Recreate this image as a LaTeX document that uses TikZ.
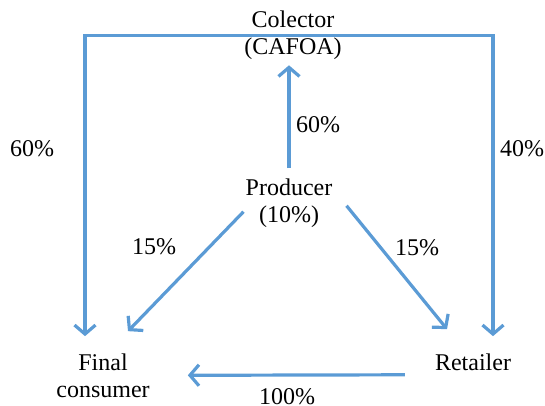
\documentclass[tikz,border=0pt]{standalone}
\usepackage{fontspec}
\setmainfont{Liberation Serif}
\usetikzlibrary{arrows.meta}
\definecolor{flowblue}{HTML}{5B9BD5}

\begin{document}
\begin{tikzpicture}[x=1pt,y=-1pt,
        >={Straight Barb[length=9pt,width=21pt]},
        flow/.style={draw=flowblue,line width=3.2pt,->},
        txt/.style={inner sep=0pt,align=center,anchor=base,font=\fontsize{24}{27}\selectfont}]
    \useasboundingbox (0,0) rectangle (545,406);
    	\node at (293,55) [txt] (coll) {Colector\\(CAFOA)};
        \node at (289,222) [txt] (prod) {Producer\\(10\%)};
        \node at (103,397) [txt] (fin) {Final\\consumer};
        \node at (473,370) [txt] (ret) {Retailer};

        \node at (32,157) [txt] (pcoll) {60\%};
        \node at (522,157) [txt] (pret) {40\%};
        \node at (318,133) [txt] (pup) {60\%};
        \node at (154,254) [txt] (pfin) {15\%};
        \node at (417,255) [txt] (pdown) {15\%};
        \node at (287,404) [txt] (pback) {100\%};

        \draw[flow,<->] ([shift={(-18,-17)}]fin.north) |- (coll.center) -| ([shift={(20,-17)}]ret.north);
        \draw[flow] ([shift={(0,-10)}]prod.north) -- ([shift={(-4,5)}]coll.south);
        \draw[flow] ([shift={(-2,9)}]prod.west) -- ([shift={(25,-22)}]fin.north);
        \draw[flow] ([shift={(14,3)}]prod.east) -- ([shift={(-26,-24)}]ret.north);
        \draw[flow] ([shift={(-30,13)}]ret.west) -- ([shift={(38,0)}]fin.east);
        \end{tikzpicture}
\end{document}
